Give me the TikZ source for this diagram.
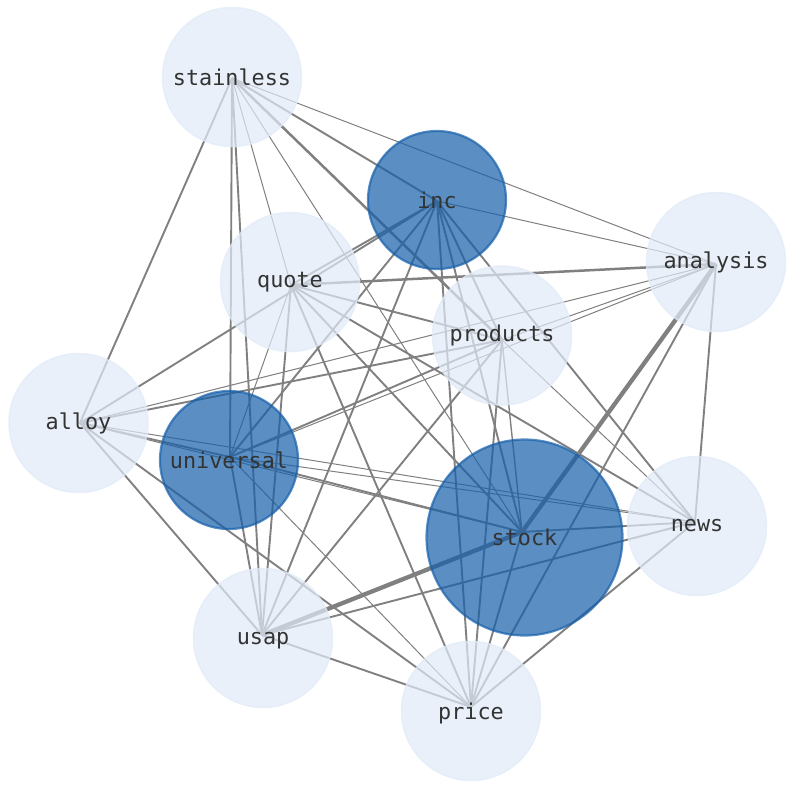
\documentclass[tikz,border=0pt]{standalone}
\usepackage{fontspec}
\newfontfamily\labelfont{DejaVu Sans Mono}
\usetikzlibrary{backgrounds}
\definecolor{lightfill}{RGB}{225,235,248}
\definecolor{darkfill}{RGB}{22,96,170}
\definecolor{edgecol}{RGB}{128,128,128}
\definecolor{labelcol}{RGB}{51,51,51}
\tikzset{
  vtx/.style={circle, inner sep=0pt, opacity=0.7, text opacity=1,
    text=labelcol, font=\labelfont\fontsize{21.8}{26}\selectfont},
  lightvtx/.style={vtx, fill=lightfill, draw=lightfill, line width=1.5pt, minimum size=139pt},
  darkvtx/.style={vtx, fill=darkfill, draw=darkfill, line width=2.2pt, minimum size=138pt},
  bigvtx/.style={darkvtx, minimum size=196pt},
  ethin/.style={draw=edgecol, line width=1pt},
  emid/.style={draw=edgecol, line width=1.4pt},
  emed/.style={draw=edgecol, line width=1.9pt},
  ethick/.style={draw=edgecol, line width=2.5pt},
  eheavy/.style={draw=edgecol, line width=4.3pt}
}
\begin{document}
\begin{tikzpicture}[x=1pt,y=-1pt]
\useasboundingbox (0,0) rectangle (794,790);
% vertices (circle and label at the circle centre)
\node[lightvtx] (S) at (232,77) {stainless};
\node[darkvtx]  (I) at (437,200) {inc};
\node[lightvtx] (A) at (716,262) {analysis};
\node[lightvtx] (Q) at (290,282) {quote};
\node[lightvtx] (P) at (502,335.5) {products};
\node[lightvtx] (L) at (78.5,423) {alloy};
\node[darkvtx]  (U) at (229,460) {universal};
\node[bigvtx]   (K) at (524.5,537.5) {stock};
\node[lightvtx] (N) at (697,526) {news};
\node[lightvtx, text depth=0pt] (Y) at (263,638) {usap};
\node[lightvtx, text depth=0pt] (R) at (471,711) {price};
% points where the connectors of each vertex meet
\coordinate (s) at ([yshift=-1pt]S.center);
\coordinate (i) at ([yshift=-1pt]I.center);
\coordinate (a) at ([yshift=-2pt]A.center);
\coordinate (q) at ([xshift=1pt,yshift=-3pt]Q.center);
\coordinate (p) at ([yshift=-4.5pt]P.center);
\coordinate (l) at ([xshift=1.5pt]L.center);
\coordinate (u) at ([xshift=1pt,yshift=3pt]U.center);
\coordinate (k) at ([xshift=-2.5pt,yshift=5.5pt]K.center);
\coordinate (n) at ([xshift=-2pt,yshift=4pt]N.center);
\coordinate (y) at ([xshift=-1pt,yshift=3pt]Y.center);
\coordinate (r) at ([yshift=4pt]R.center);
\begin{pgfonlayer}{background}
\fill[white] (0,0) rectangle (794,790);
% inc
\draw[emed]  (i) -- (s);
\draw[ethin] (i) -- (a);
\draw[emed]  (i) -- (q);
\draw[emed]  (i) -- (p);
\draw[emed]  (i) -- (l);
\draw[emed]  (i) -- (u);
\draw[emed]  (i) -- (k);
\draw[emed]  (i) -- (n);
\draw[emed]  (i) -- (y);
\draw[emed]  (i) -- (r);
% universal
\draw[emed]  (u) -- (s);
\draw[ethin] (u) -- (q);
\draw[ethin] (u) -- (a);
\draw[emed]  (u) -- (p);
\draw[emed]  (u) -- (l);
\draw[emed]  (u) -- (k);
\draw[ethin] (u) -- (n);
\draw[emed]  (u) -- (y);
\draw[ethin] (u) -- (r);
% stock
\draw[ethin]  (k) -- (s);
\draw[emed]   (k) -- (q);
\draw[eheavy] (k) -- (a);
\draw[emid]   (k) -- (p);
\draw[ethin]  (k) -- (l);
\draw[emed]   (k) -- (n);
\draw[eheavy] (k) -- (y);
\draw[emed]   (k) -- (r);
% products
\draw[ethick] (p) -- (s);
\draw[emed]   (p) -- (q);
\draw[ethin]  (p) -- (a);
\draw[emed]   (p) -- (l);
\draw[ethin]  (p) -- (n);
\draw[emed]   (p) -- (y);
\draw[emed]   (p) -- (r);
% stainless
\draw[emed]  (s) -- (l);
\draw[emed]  (s) -- (y);
\draw[ethin] (s) -- (q);
\draw[ethin] (s) -- (a);
% quote
\draw[ethick] (q) -- (a);
\draw[emed]   (q) -- (n);
\draw[emed]   (q) -- (y);
\draw[emed]   (q) -- (r);
% analysis
\draw[ethin] (a) -- (l);
\draw[emed]  (a) -- (r);
\draw[emed]  (a) -- (n);
% alloy
\draw[ethin] (l) -- (n);
\draw[emed]  (l) -- (y);
\draw[emed]  (l) -- (r);
% news, usap
\draw[emed] (n) -- (y);
\draw[emed] (n) -- (r);
\draw[emed] (y) -- (r);
\end{pgfonlayer}
\end{tikzpicture}
\end{document}
